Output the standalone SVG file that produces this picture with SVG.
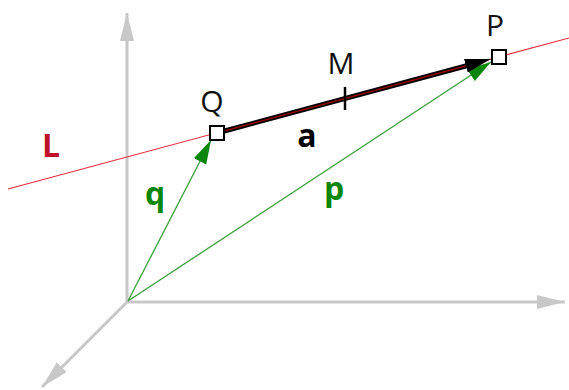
<svg xmlns="http://www.w3.org/2000/svg" width="569" height="390" viewBox="0 0 569 390">
<style>
.axis{stroke:#c8c8c8;stroke-width:3;fill:none}
.line{stroke:#e0303a;stroke-width:1.2;fill:none}
.vec{stroke:#3aa03a;stroke-width:1.3;fill:none}
.lbl{font-family:"Open Sans","Noto Sans",sans-serif;font-size:30px;fill:#111;text-anchor:middle}
.bold{font-family:"Open Sans","Noto Sans",sans-serif;font-size:32px;font-weight:bold;text-anchor:middle}
.box{fill:#fff;stroke:#000;stroke-width:2}
</style>
<defs>
<marker id="ax" markerUnits="userSpaceOnUse" markerWidth="30" markerHeight="16" refX="28" refY="7" orient="auto">
<path d="M0,0 L28,7 L0,14 z" fill="#c8c8c8"/>
</marker>
<marker id="gr" markerUnits="userSpaceOnUse" markerWidth="26" markerHeight="16" refX="24" refY="7" orient="auto">
<path d="M0,0 L24,7 L0,14 z" fill="#0a870a"/>
</marker>
<marker id="bk" markerUnits="userSpaceOnUse" markerWidth="28" markerHeight="16" refX="26" refY="7" orient="auto">
<path d="M0,0 L26,7 L0,14 z" fill="#000"/>
</marker>
</defs>
<g id="axes">
<line class="axis" x1="127" y1="302" x2="127" y2="13" marker-end="url(#ax)"/>
<line class="axis" x1="127" y1="302" x2="565" y2="302" marker-end="url(#ax)"/>
<line class="axis" x1="127" y1="302" x2="42" y2="387" marker-end="url(#ax)"/>
</g>
<g id="connectors">
<line class="line" x1="8" y1="189" x2="569" y2="38"/>
<line class="vec" x1="128" y1="301" x2="211" y2="140" marker-end="url(#gr)"/>
<line class="vec" x1="128" y1="301" x2="491" y2="62" marker-end="url(#gr)"/>
<line x1="217" y1="133" x2="475" y2="63.5" stroke="#000" stroke-width="5"/>
<line x1="217" y1="133" x2="475" y2="63.5" stroke="#8b0000" stroke-width="1.6"/>
<line x1="217" y1="133" x2="491" y2="59" stroke="none" marker-end="url(#bk)"/>
<line x1="345" y1="87" x2="345" y2="110" stroke="#000" stroke-width="2.5"/>
</g>
<g id="Q">
<rect class="box" x="210" y="126" width="14" height="14"/>
<text class="lbl" x="212" y="112">Q</text>
</g>
<g id="P">
<rect class="box" x="492" y="50" width="14" height="14"/>
<text class="lbl" x="495" y="36">P</text>
</g>
<g id="M">
<text class="lbl" x="341" y="74">M</text>
</g>
<g id="labels">
<text class="bold" x="51" y="157" fill="#c0102a">L</text>
<text class="bold" x="307" y="147" fill="#000">a</text>
<text class="bold" x="155" y="205" fill="#0a870a">q</text>
<text class="bold" x="334" y="200" fill="#0a870a">p</text>
</g>
</svg>
